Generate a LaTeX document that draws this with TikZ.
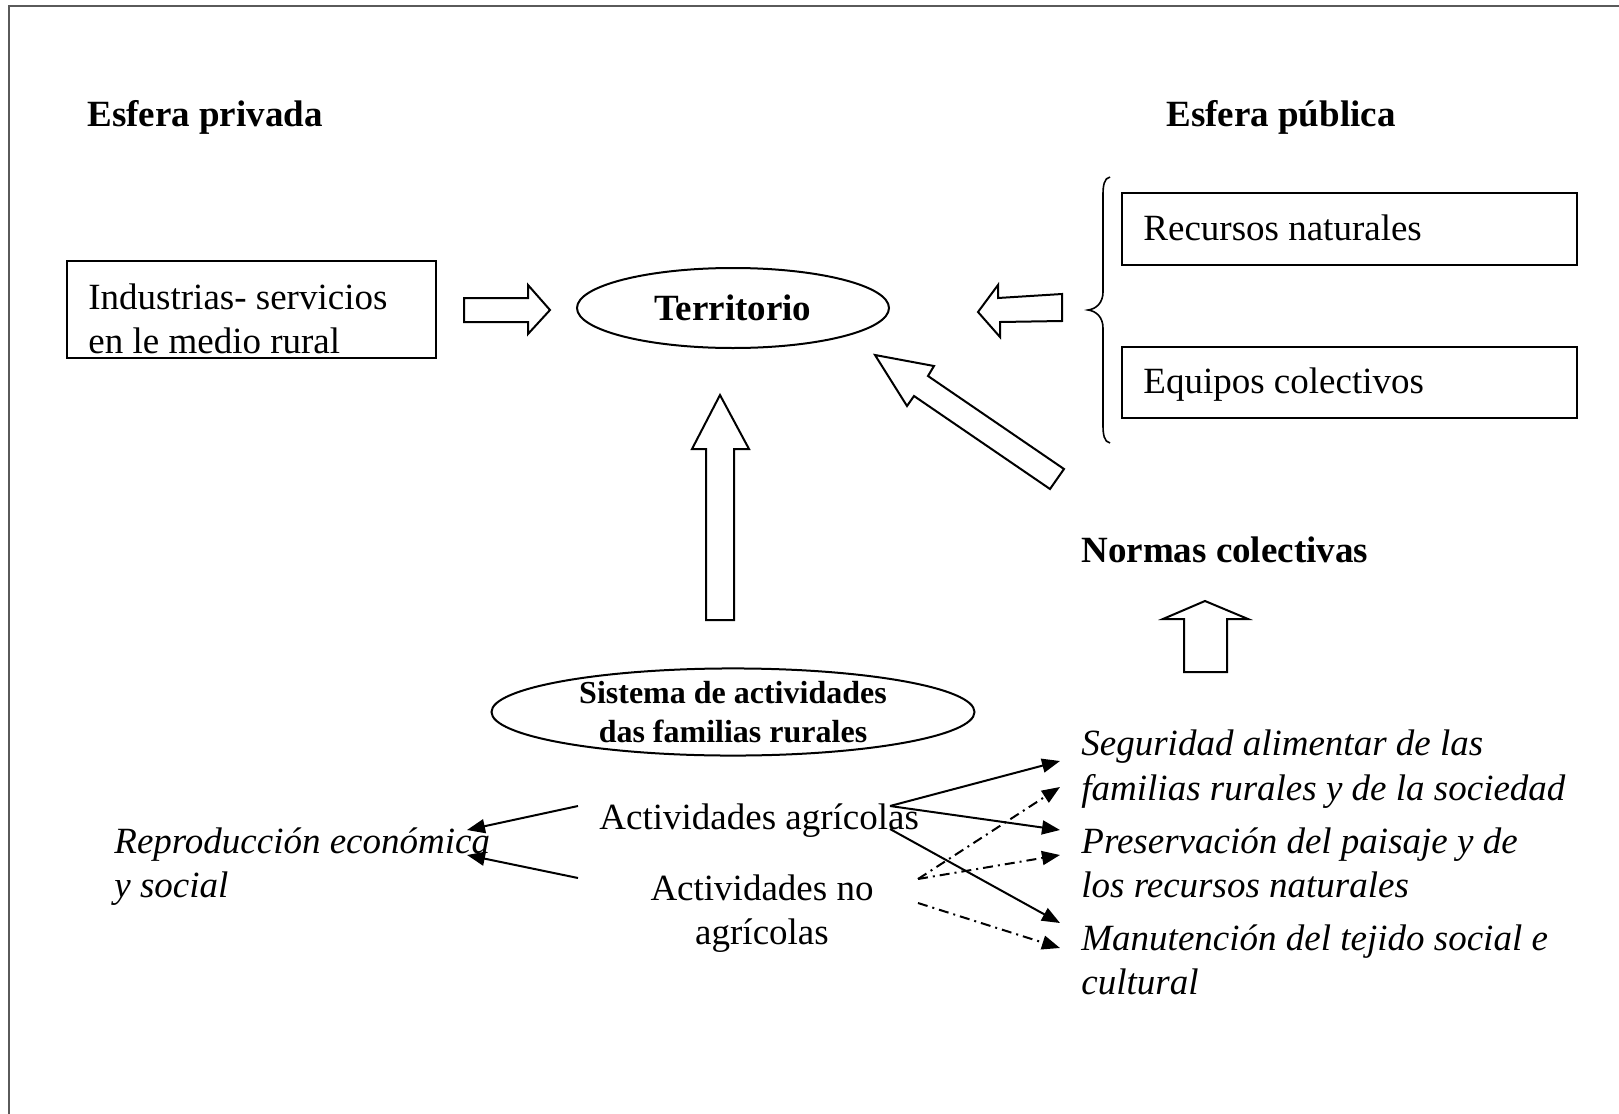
\documentclass[tikz,border=0pt]{standalone}
\usepackage{fontspec}
\setmainfont{Liberation Serif}
\usetikzlibrary{arrows.meta,shapes.geometric}
\tikzset{
  lbl/.style={inner sep=0pt, anchor=base west},
  boxn/.style={draw, line width=1pt, inner sep=0pt},
  ell/.style={draw, ellipse, line width=1pt, inner sep=0pt},
  blk/.style={draw, line width=1pt, fill=white, line join=miter},
  arr/.style={-{Triangle[length=9pt,width=7pt]}, line width=1pt},
  dda/.style={arr, dash pattern=on 5pt off 2.5pt on 1pt off 2.5pt},
  bigtxt/.style={font=\fontsize{18.5}{22}\selectfont},
}
\begin{document}
\begin{tikzpicture}[x=0.5pt,y=-0.5pt,bigtxt]
\useasboundingbox (0,0) rectangle (1619,1114);
% frame
\draw[line width=1.1pt, color={rgb,255:red,90;green,90;blue,90}] (9,1114) -- (9,6) -- (1619,6);

% titles
\node[lbl, font=\fontsize{18.5}{22}\selectfont\bfseries] (epriv) at (87,126) {Esfera privada};
\node[lbl, font=\fontsize{18.5}{22}\selectfont\bfseries] (epub) at (1166,126) {Esfera pública};

% Industrias box
\node[boxn, minimum width=184.5pt, minimum height=48.5pt] (indbox) at (251.5,309.5) {};
\node[lbl, align=left] (ind) at (88,353) {Industrias- servicios\\en le medio rural};

% right arrow
\draw[blk] (464,298) -- (528,298) -- (528,285) -- (550,310) -- (528,334) -- (528,322) -- (464,322) -- cycle;

% Territorio
\node[ell, minimum width=156pt, minimum height=40pt, font=\fontsize{18.5}{22}\selectfont\bfseries] (ter) at (733,308) {Territorio};

% left arrow
\draw[blk] (978,312) -- (998,285) -- (998,298) -- (1062,294) -- (1062,321) -- (1000,322) -- (1000,337) -- cycle;

% right boxes
\node[boxn, minimum width=227.5pt, minimum height=36pt] (recbox) at (1349.5,229) {};
\node[lbl] (rec) at (1143,240) {Recursos naturales};
\node[boxn, minimum width=227.5pt, minimum height=35.5pt] (eqbox) at (1349.5,382.5) {};
\node[lbl] (eq) at (1143,393) {Equipos colectivos};

% brace
\draw[line width=0.8pt] (1110,177) .. controls (1104,178) and (1103,186) .. (1103,195)
  -- (1103,292) .. controls (1103,303) and (1096,309) .. (1088,310)
  .. controls (1096,311) and (1103,317) .. (1103,328)
  -- (1103,425) .. controls (1103,434) and (1104,442) .. (1110,443);

% diagonal arrow
\draw[blk] (875,355) -- (934,366) -- (928,376) -- (1064,469) -- (1050,489) -- (914,396) -- (907,406) -- cycle;

% vertical arrow
\draw[blk] (720,395) -- (749,449) -- (734,449) -- (734,620) -- (706,620) -- (706,449) -- (692,449) -- cycle;

% Normas colectivas
\node[lbl, font=\fontsize{18.5}{22}\selectfont\bfseries] (norm) at (1081,562) {Normas colectivas};

% small up arrow
\draw[blk] (1205,601) -- (1248,619) -- (1227,619) -- (1227,672) -- (1184,672) -- (1184,619) -- (1163,619) -- cycle;

% Sistema ellipse
\node[ell, minimum width=241.5pt, minimum height=43pt, align=center, font=\fontsize{16}{19.5}\selectfont\bfseries] (sis) at (733,712) {Sistema de actividades\\das familias rurales};

% activities
\node[lbl] (agr) at (599,829) {Actividades agrícolas};
\node[inner sep=0pt, anchor=base, align=center] (noagr) at (762,944) {Actividades no\\agrícolas};

% left outcome
\node[lbl, align=left, font=\fontsize{18.5}{22}\selectfont\itshape] (rep) at (114,897) {Reproducción económica\\y social};

% right outcomes
\node[lbl, align=left, font=\fontsize{18.5}{22.5}\selectfont\itshape] (seg) at (1081,800) {Seguridad alimentar de las\\familias rurales y de la sociedad};
\node[lbl, align=left, font=\fontsize{18.5}{22}\selectfont\itshape] (pres) at (1081,897) {Preservación del paisaje y de\\los recursos naturales};
\node[lbl, align=left, font=\fontsize{18.5}{22}\selectfont\itshape] (man) at (1081,994) {Manutención del tejido social e\\cultural};

% connector endpoints
\coordinate (aL1) at (578,806);
\coordinate (aL2) at (578,878);
\coordinate (rT1) at (467,830);
\coordinate (rT2) at (467,855);
\coordinate (aR1) at (890,806);
\coordinate (aR2) at (890,829);
\coordinate (nR1) at (918,879);
\coordinate (nR2) at (918,903);
\coordinate (s1) at (1060,761);
\coordinate (s2) at (1060,787);
\coordinate (p1) at (1060,830);
\coordinate (p2) at (1060,855);
\coordinate (m1) at (1060,923);
\coordinate (m2) at (1060,948);

\draw[arr] (aL1) -- (rT1);
\draw[arr] (aL2) -- (rT2);
\draw[arr] (aR1) -- (s1);
\draw[arr] (aR1) -- (p1);
\draw[arr] (aR2) -- (m1);
\draw[dda] (nR1) -- (s2);
\draw[dda] (nR1) -- (p2);
\draw[dda] (nR2) -- (m2);
\end{tikzpicture}
\end{document}
